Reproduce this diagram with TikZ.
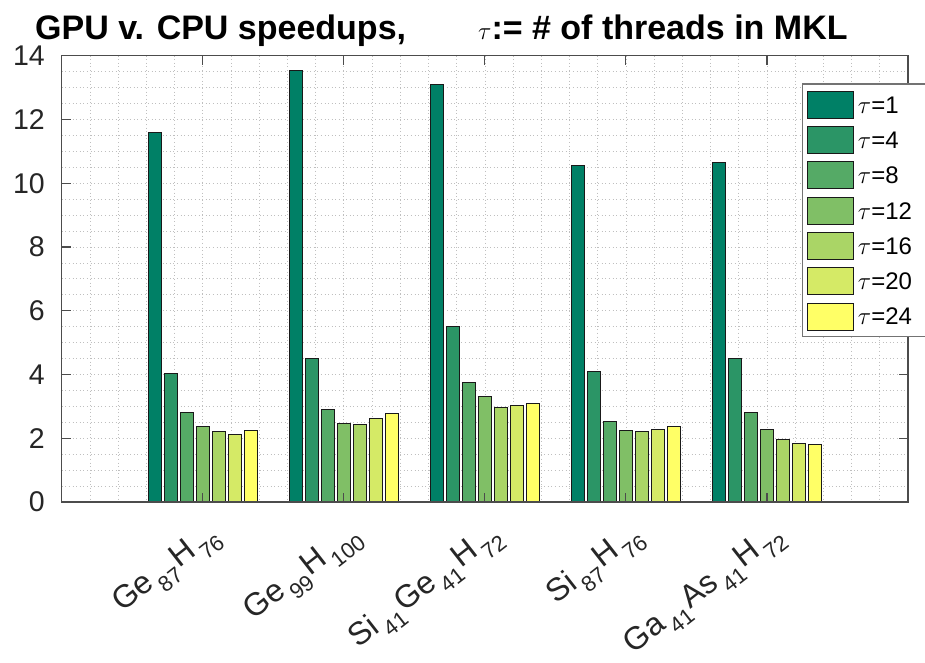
\documentclass[tikz,border=0pt]{standalone}
\usepackage{fontspec}
\setmainfont{Liberation Sans}
\definecolor{c0}{RGB}{0,128,102}
\definecolor{c1}{RGB}{43,149,102}
\definecolor{c2}{RGB}{85,170,102}
\definecolor{c3}{RGB}{128,191,102}
\definecolor{c4}{RGB}{170,213,102}
\definecolor{c5}{RGB}{213,234,102}
\definecolor{c6}{RGB}{255,255,102}
\newcommand\subsc[1]{\kern3.5pt\raisebox{-0.34em}{\fontsize{22}{22}\selectfont #1}\kern1.5pt}
\newcommand\bargroup[8]{%
  \foreach \v [count=\k from 0] in {#2,#3,#4,#5,#6,#7,#8} {%
    \pgfmathsetmacro\xc{61.7+141.05*#1+(\k-3)*16}%
    \filldraw[barbox, fill=c\k] ({\xc-6.35},502) rectangle ({\xc+6.35},{502-31.88*\v});
  }}
\begin{document}
\begin{tikzpicture}[x=1pt,y=-1pt,
  ax/.style={black!70, line width=1.1pt},
  gridline/.style={black!25, line width=0.7pt, dash pattern=on 1pt off 2.6pt},
  barbox/.style={draw=black!90, line width=0.9pt},
  legbox/.style={black!55, line width=1.2pt},
  ticklbl/.style={font=\fontsize{28.5}{30}\selectfont, inner sep=0pt, text=black!85},
  xlbl/.style={font=\fontsize{32}{34}\selectfont, inner sep=0pt, text=black!85, rotate=38, anchor=base east},
  leglbl/.style={font=\fontsize{24}{26}\selectfont, inner sep=0pt, anchor=west},
  titlelbl/.style={font=\bfseries\fontsize{34}{38}\selectfont, inner sep=0pt, anchor=base west}]
\useasboundingbox (0,0) rectangle (925,663);
\fill[white] (0,0) rectangle (925,663);
% grid
\foreach \i in {1,...,29} \draw[gridline] ({61.7+\i*28.21},55.7) -- ({61.7+\i*28.21},502);
\foreach \j in {1,...,27} \draw[gridline] (61.7,{502-\j*15.94}) -- (908,{502-\j*15.94});
% bars
\bargroup{1}{11.60}{4.04}{2.80}{2.38}{2.20}{2.13}{2.23}
\bargroup{2}{13.55}{4.51}{2.91}{2.47}{2.44}{2.63}{2.78}
\bargroup{3}{13.10}{5.50}{3.76}{3.32}{2.97}{3.02}{3.08}
\bargroup{4}{10.55}{4.10}{2.52}{2.26}{2.21}{2.29}{2.36}
\bargroup{5}{10.66}{4.49}{2.81}{2.28}{1.97}{1.85}{1.80}
% axes box and ticks
\draw[ax] (61.7,55.7) rectangle (908,502);
\foreach \t in {0,2,...,14} {
  \draw[ax] (61.7,{502-31.88*\t}) -- ++(9,0);
  \draw[ax] (908,{502-31.88*\t}) -- ++(-9,0);
  \node[ticklbl, anchor=east] (y\t) at (45,{502-31.88*\t}) {\t};
}
\foreach \g in {1,...,5} {
  \draw[ax] ({61.7+141.05*\g},502) -- ++(0,-9);
  \draw[ax] ({61.7+141.05*\g},55.7) -- ++(0,9);
}
% x labels
\node[xlbl] (x1) at ({61.7+141.05*1+18},536) {Ge\subsc{87}H\subsc{76}};
\node[xlbl] (x2) at ({61.7+141.05*2+18},536) {Ge\subsc{99}H\subsc{100}};
\node[xlbl] (x3) at ({61.7+141.05*3+18},536) {Si\subsc{41}Ge\subsc{41}H\subsc{72}};
\node[xlbl] (x4) at ({61.7+141.05*4+18},536) {Si\subsc{87}H\subsc{76}};
\node[xlbl] (x5) at ({61.7+141.05*5+18},536) {Ga\subsc{41}As\subsc{41}H\subsc{72}};
% legend
\fill[white] (802.3,84) rectangle (925,336.7);
\draw[legbox] (925,84) -- (802.3,84) -- (802.3,336.7) -- (925,336.7);
\foreach \tv [count=\k from 0] in {1,4,8,12,16,20,24} {
  \filldraw[barbox, fill=c\k] (807.7,{91.3+35.3*\k}) rectangle (853.3,{118.3+35.3*\k});
  \node[leglbl] (leg\k) at (857.7,{104.8+35.3*\k}) {$\tau$=\tv};
}
% title
\node[titlelbl] (title) at (35,39.3) {GPU v. CPU speedups,\hspace{72pt}$\tau$:= \# of threads in MKL};
\end{tikzpicture}
\end{document}
